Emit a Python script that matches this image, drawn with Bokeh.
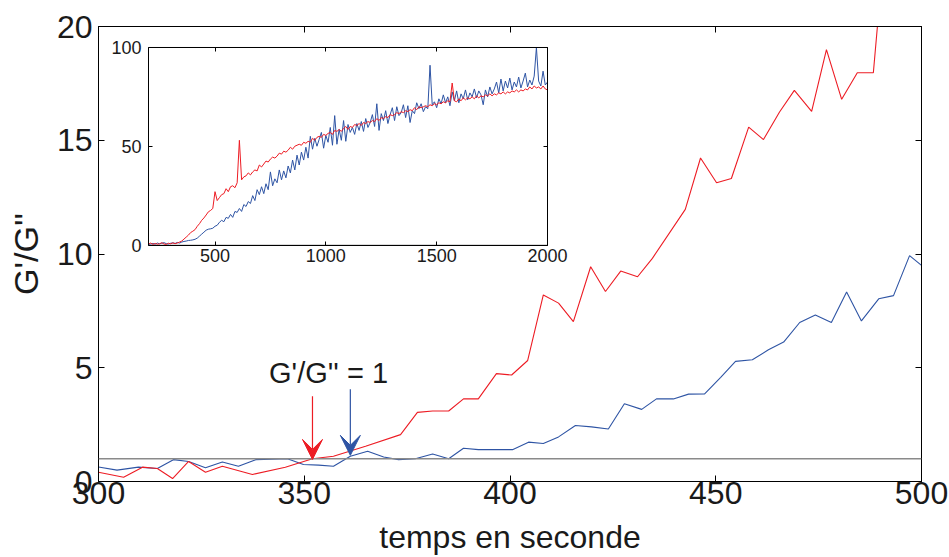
from bokeh.plotting import figure
from bokeh.models import (Range1d, LinearAxis, FixedTicker, Span, Arrow, VeeHead,
                          Label, BoxAnnotation)
from bokeh.embed import file_html
from bokeh.resources import INLINE

# ---------------- data ----------------
# main chart: G'/G'' vs time (s)
t_blue = [300.0, 304.5, 309.7, 314.3, 318.2, 321.9, 326.0, 330.1, 334.0, 338.2,
          342.0, 345.9, 349.8, 353.5, 357.1, 361.2, 365.4, 369.3, 372.9, 377.0,
          381.2, 385.1, 388.7, 392.3, 396.5, 400.6, 404.5, 408.1, 411.8, 415.9,
          419.8, 423.9, 427.8, 432.0, 435.6, 439.7, 443.4, 447.3, 451.2, 454.8,
          458.9, 462.8, 466.5, 470.4, 474.2, 478.1, 481.8, 485.4, 489.6, 493.2,
          497.1, 500.0]
ratio_blue = [0.64, 0.50, 0.63, 0.57, 0.96, 0.88, 0.60, 0.86, 0.67, 0.96,
              0.98, 1.00, 0.75, 0.72, 0.67, 1.11, 1.33, 1.08, 0.96, 1.00,
              1.21, 1.00, 1.46, 1.40, 1.40, 1.40, 1.73, 1.67, 1.96, 2.46,
              2.40, 2.31, 3.42, 3.17, 3.63, 3.63, 3.84, 3.85, 4.58, 5.28,
              5.35, 5.79, 6.13, 6.99, 7.32, 6.99, 8.33, 7.06, 8.03, 8.17,
              9.93, 9.50]

t_red = [300.0, 306.1, 310.7, 314.3, 318.0, 321.9, 326.0, 330.1, 337.4, 345.4,
         352.0, 357.1, 364.9, 373.4, 377.5, 381.2, 385.1, 388.7, 392.3, 396.7,
         400.4, 404.3, 408.1, 411.8, 415.4, 419.6, 423.2, 426.9, 431.0, 434.6,
         442.6, 446.3, 450.2, 453.8, 458.0, 461.6, 465.5, 469.1, 473.3, 476.9,
         480.6, 484.4, 488.3, 492.2]
ratio_red = [0.41, 0.19, 0.63, 0.57, 0.13, 0.88, 0.41, 0.67, 0.31, 0.63,
             1.00, 1.11, 1.55, 2.06, 3.04, 3.10, 3.10, 3.63, 3.63, 4.74,
             4.68, 5.32, 8.20, 7.84, 7.03, 9.44, 8.35, 9.25, 9.00, 9.81,
             11.96, 14.22, 13.13, 13.32, 15.58, 15.03, 16.24, 17.19, 16.27, 18.98,
             16.80, 17.97, 17.97, 26.0]

# inset: full run 200 .. 2000 s, one reading every 10 s
inset_t = list(range(200, 2001, 10))
inset_red = [
    0.5, 1.0, 0.3, 0.8, 0.4, 0.6, 1.2, 0.5, 0.3, 0.9,
    0.6, 1.1, 0.7, 1.0, 1.5, 2.0, 3.0, 4.0, 5.0, 6.3,
    7.0, 7.8, 9.5, 10.8, 12.5, 13.7, 15.2, 16.8, 17.5, 18.5,
    27.0, 22.5, 24.0, 25.5, 26.0, 28.5, 27.0, 29.5, 30.0, 29.0,
    31.5, 53.0, 33.0, 34.5, 35.0, 36.5, 35.5, 37.0, 38.0, 37.5,
    40.5, 39.5, 41.0, 42.5, 42.0, 43.5, 44.5, 44.0, 45.0, 46.5,
    46.0, 47.5, 47.0, 48.0, 49.5, 48.5, 50.0, 50.5, 51.0, 50.5,
    52.0, 51.5, 52.5, 52.0, 54.0, 53.0, 54.5, 55.0, 54.5, 56.0,
    55.5, 56.5, 57.0, 56.0, 58.0, 57.5, 58.5, 57.5, 59.0, 60.0,
    58.5, 60.0, 59.5, 61.0, 60.5, 61.5, 60.5, 62.0, 61.5, 62.5,
    62.0, 63.0, 62.5, 64.0, 63.0, 64.5, 64.0, 65.0, 64.5, 66.0,
    65.5, 66.0, 67.0, 66.5, 67.5, 67.0, 68.0, 67.5, 68.5, 68.0,
    69.5, 68.5, 70.0, 69.5, 70.0, 70.5, 70.0, 71.0, 70.5, 71.5,
    71.0, 72.0, 71.5, 72.5, 72.0, 73.0, 72.5, 82.0, 73.0, 72.5,
    74.0, 73.0, 74.5, 73.5, 74.5, 74.0, 75.0, 74.0, 75.5, 74.5,
    75.5, 75.0, 76.0, 75.5, 76.5, 75.5, 76.5, 76.0, 77.0, 76.5,
    77.5, 76.5, 77.5, 77.0, 78.0, 77.5, 78.5, 77.5, 78.5, 78.0,
    79.0, 78.5, 80.0, 79.0, 80.5, 79.5, 80.0, 79.0, 80.5, 79.0,
    78.5]
inset_blue = [
    0.3, 0.5, 0.8, 0.4, 1.0, 0.6, 0.9, 1.2, 0.7, 0.5,
    0.9, 1.1, 0.8, 1.3, 1.0, 1.5, 1.8, 2.0, 2.3, 2.4,
    2.6, 2.9, 3.5, 4.5, 5.5, 6.5, 7.5, 8.0, 8.2, 8.5,
    9.5, 10.0, 11.5, 12.5, 11.8, 14.0, 13.5, 15.5, 14.0, 17.0,
    16.5, 18.5, 17.0, 20.5, 19.5, 22.0, 21.0, 25.0, 22.5, 28.0,
    25.5, 29.5, 26.0, 31.0, 28.0, 37.0, 30.0, 33.5, 31.5, 38.0,
    33.0, 37.5, 34.0, 40.0, 36.5, 43.0, 38.0, 45.5, 40.5, 47.0,
    43.0, 49.5, 44.0, 55.0, 48.5, 54.0, 50.0, 53.5, 57.0, 49.0,
    55.5, 52.0, 59.5, 50.5, 65.5, 51.0, 58.5, 53.0, 63.0, 52.5,
    61.0, 57.0, 59.5, 56.0, 61.5, 58.0, 62.5, 57.5, 64.0, 59.5,
    62.0, 66.0, 60.0, 71.5, 58.0, 66.5, 63.0, 68.0, 61.5, 66.0,
    69.5, 63.0, 70.0, 65.5, 67.0, 71.0, 64.5, 70.5, 62.0, 68.0,
    66.5, 72.0, 69.0, 71.5, 67.5, 70.0, 69.0, 91.0, 71.0, 72.5,
    69.5, 74.0, 71.5, 76.0, 72.0, 75.0, 70.5, 77.5, 73.0, 78.0,
    72.0, 76.5, 74.0, 78.5, 73.5, 77.0, 75.0, 79.0, 74.5, 78.0,
    76.0, 71.0, 78.5, 75.0, 80.0, 76.5, 79.0, 82.5, 77.0, 84.0,
    78.0, 83.0, 79.5, 84.5, 78.5, 82.5, 80.0, 85.0, 79.5, 83.0,
    87.0, 80.0, 83.5, 81.0, 85.5, 100.0, 83.0, 80.5, 88.0, 81.0,
    82.5]

main_xticks = [300, 350, 400, 450, 500]
main_yticks = [0, 5, 10, 15, 20]
inset_xticks = [500, 1000, 1500, 2000]
inset_yticks = [0, 50, 100]
inset_xlim = (200, 2000)
inset_ylim = (0, 100)

threshold = 1.0
arrow_t = [352.0, 361.2]
arrow_from = [3.75, 4.05]
arrow_to = [0.97, 1.15]
note_text = "G'/G'' = 1"
note_x, note_y = 355.9, 4.78

# ---------------- style / layout ----------------
RED = "#ED1C24"
BLUE = "#2E54A4"
INK = "#1a1a1a"
FONT = "Liberation Sans"

W, H = 949, 557
BL, BR, BT, BB = 98, 28, 26, 75
FW, FH = W - BL - BR, H - BT - BB
# inset box inside the frame, in pixels (left/right from frame left, bottom/top from frame bottom)
IN_L, IN_R, IN_B, IN_T = 50, 449, 237, 435

p = figure(width=W, height=H, x_range=Range1d(300, 500), y_range=Range1d(0, 20),
           output_backend="svg", toolbar_location=None,
           min_border_left=BL, min_border_right=BR, min_border_top=BT, min_border_bottom=BB,
           x_axis_label="temps en seconde", y_axis_label="G'/G''")
p.grid.visible = False
p.outline_line_color = "black"
p.outline_line_width = 1
p.background_fill_color = "white"
p.border_fill_color = "white"


def style_axis(ax, ticks, font_px, standoff, tick_len, show_labels=True):
    ax.ticker = FixedTicker(ticks=ticks)
    ax.major_tick_in = tick_len
    ax.major_tick_out = 0
    ax.minor_tick_in = 0
    ax.minor_tick_out = 0
    ax.major_tick_line_color = "black"
    ax.axis_line_color = "black"
    ax.major_label_text_font = FONT
    if show_labels:
        ax.major_label_text_color = INK
        ax.major_label_text_font_size = f"{font_px}px"
    else:
        ax.major_label_text_color = None
        ax.major_label_text_font_size = "1px"
    ax.major_label_standoff = standoff


xa = p.xaxis[0]
style_axis(xa, main_xticks, 32, 0, 6)
xa.axis_label_text_font = FONT
xa.axis_label_text_font_size = "32px"
xa.axis_label_text_font_style = "normal"
xa.axis_label_text_color = INK
xa.axis_label_standoff = 12

ya = p.yaxis[0]
style_axis(ya, main_yticks, 32, 6, 6)
ya.axis_label_text_font = FONT
ya.axis_label_text_font_size = "34px"
ya.axis_label_text_font_style = "normal"
ya.axis_label_text_color = INK
ya.axis_label_standoff = 9

top_ax = LinearAxis()
style_axis(top_ax, main_xticks, 0, 0, 6, show_labels=False)
p.add_layout(top_ax, "above")
right_ax = LinearAxis()
style_axis(right_ax, main_yticks, 0, 0, 6, show_labels=False)
p.add_layout(right_ax, "right")

# main curves
p.add_layout(Span(location=threshold, dimension="width", line_color="#8a8a8a", line_width=1.3))
p.line(t_blue, ratio_blue, line_color=BLUE, line_width=1.1)
p.line(t_red, ratio_red, line_color=RED, line_width=1.1)

for t0, y0, y1, c in zip(arrow_t, arrow_from, arrow_to, [RED, BLUE]):
    p.add_layout(Arrow(end=VeeHead(size=20, fill_color=c, line_color=c, line_width=1),
                       x_start=t0, y_start=y0, x_end=t0, y_end=y1,
                       line_color=c, line_width=1.2))

p.add_layout(Label(x=note_x, y=note_y, text=note_text, text_align="center",
                   text_baseline="middle", text_font=FONT, text_font_size="29px",
                   text_color=INK))

# ---------------- inset (extra ranges mapped onto a sub-box of the frame) ----------------
ux = (inset_xlim[1] - inset_xlim[0]) / (IN_R - IN_L)
uy = (inset_ylim[1] - inset_ylim[0]) / (IN_T - IN_B)
p.extra_x_ranges = {"ix": Range1d(inset_xlim[0] - IN_L * ux, inset_xlim[1] + (FW - IN_R) * ux)}
p.extra_y_ranges = {"iy": Range1d(inset_ylim[0] - IN_B * uy, inset_ylim[1] + (FH - IN_T) * uy)}

p.add_layout(BoxAnnotation(left=inset_xlim[0], right=inset_xlim[1],
                           bottom=inset_ylim[0], top=inset_ylim[1],
                           x_range_name="ix", y_range_name="iy",
                           fill_color="white", fill_alpha=1.0,
                           line_color="black", line_width=1, level="underlay"))

p.line(inset_t, inset_blue, x_range_name="ix", y_range_name="iy",
       line_color=BLUE, line_width=1.0)
p.line(inset_t, inset_red, x_range_name="ix", y_range_name="iy",
       line_color=RED, line_width=1.0)

ib = LinearAxis(x_range_name="ix", y_range_name="iy", fixed_location=inset_ylim[0],
                bounds=inset_xlim)
style_axis(ib, inset_xticks, 18, 4, 4)
p.add_layout(ib, "below")

il = LinearAxis(x_range_name="ix", y_range_name="iy", fixed_location=inset_xlim[0],
                bounds=inset_ylim)
style_axis(il, inset_yticks, 18, 7, 4)
p.add_layout(il, "left")

itop = LinearAxis(x_range_name="ix", y_range_name="iy", fixed_location=inset_ylim[1],
                  bounds=inset_xlim)
style_axis(itop, inset_xticks, 0, 0, 4, show_labels=False)
p.add_layout(itop, "above")

iright = LinearAxis(x_range_name="ix", y_range_name="iy", fixed_location=inset_xlim[1],
                    bounds=inset_ylim)
style_axis(iright, inset_yticks, 0, 0, 4, show_labels=False)
p.add_layout(iright, "right")

open("out.html", "w").write(file_html(p, INLINE))
